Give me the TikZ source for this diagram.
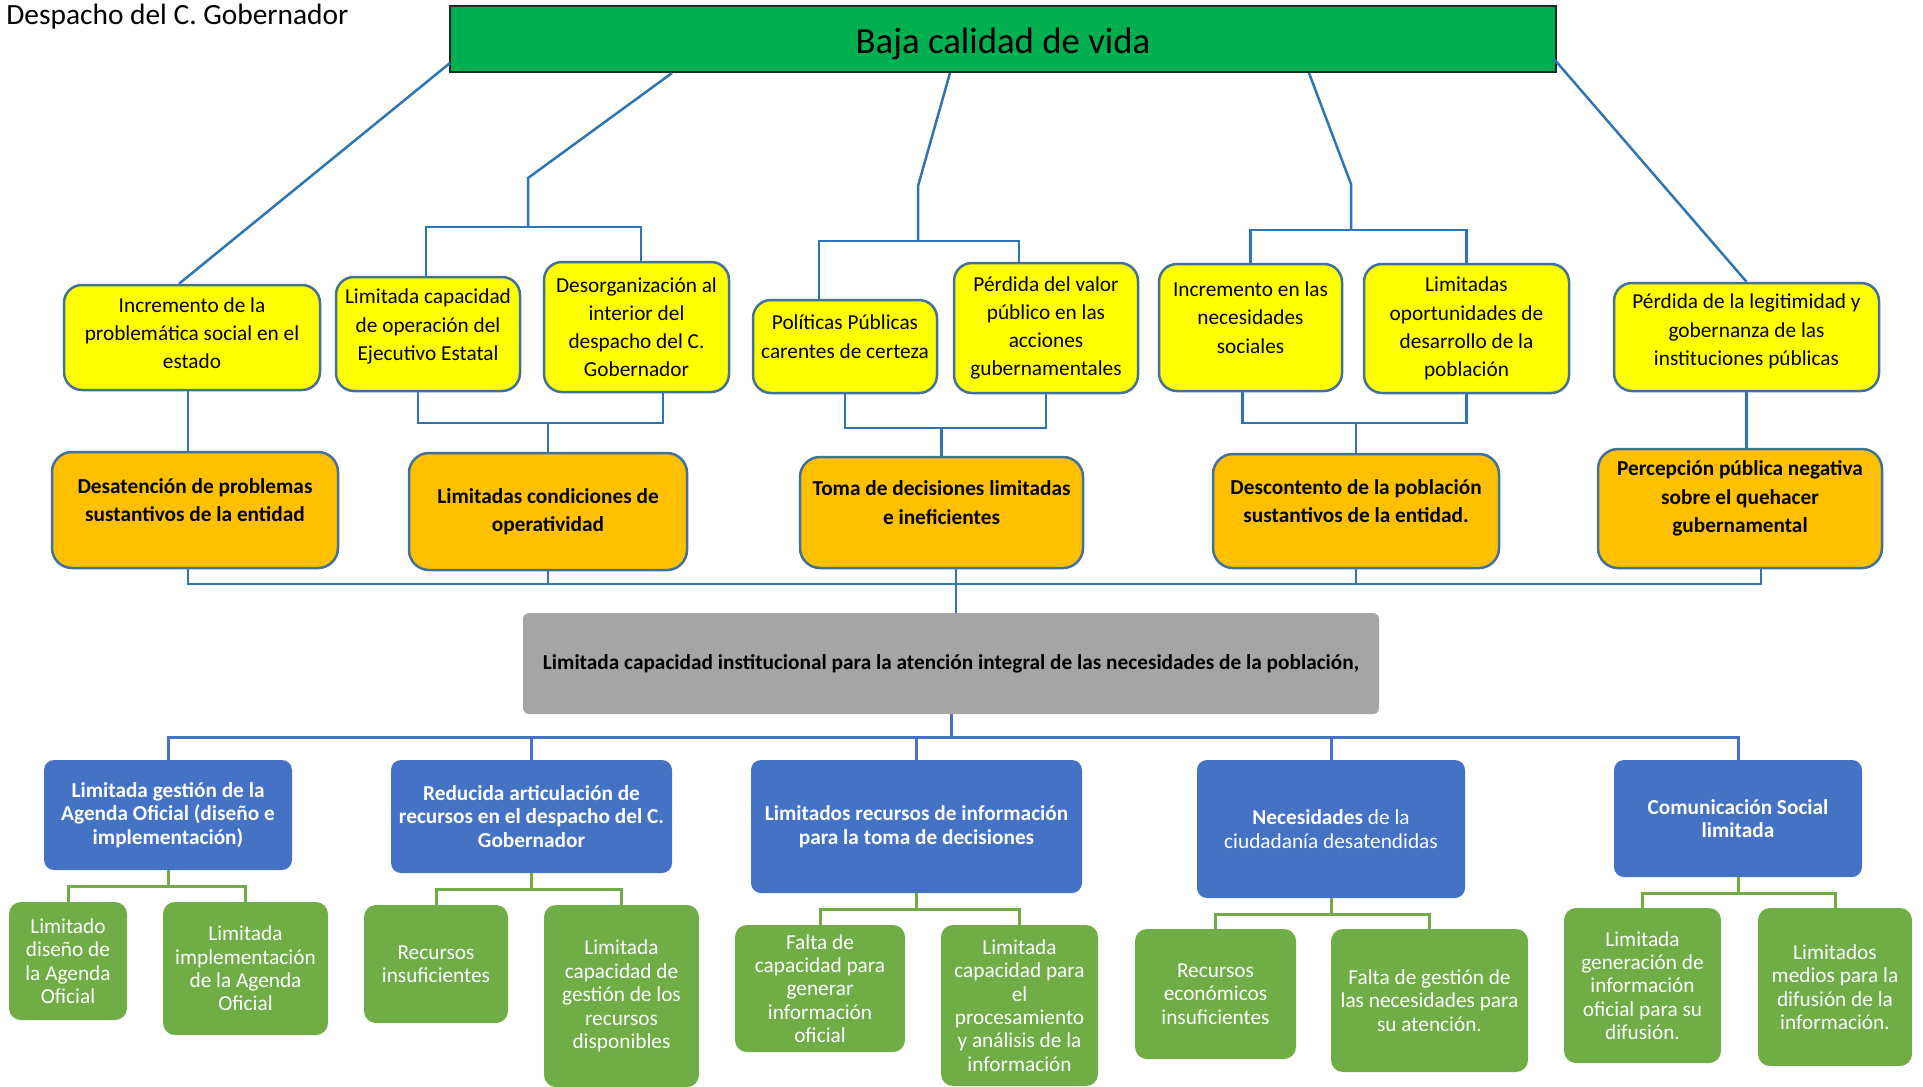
\documentclass[tikz,border=0pt]{standalone}
\usepackage{fontspec}
\setmainfont{Carlito}
\definecolor{vidagreen}{HTML}{00B050}
\definecolor{causeyellow}{HTML}{FFFF00}
\definecolor{effectorange}{HTML}{FFC000}
\definecolor{coregray}{HTML}{A5A5A5}
\definecolor{mediumblue}{HTML}{4472C4}
\definecolor{leafgreen}{HTML}{70AD47}
\definecolor{outlineblue}{HTML}{41719C}
\definecolor{linkblue}{HTML}{2E75B6}

\begin{document}
\begin{tikzpicture}[x=0.5pt,y=-0.5pt,
  boxsize/.style 2 args={minimum width={(#1)*0.5pt},minimum height={(#2)*0.5pt}},
  raisetext/.style={text depth=#1},
  yellowbox/.style={draw=outlineblue,line width=1.25pt,fill=causeyellow,rounded corners=9pt,align=center,inner sep=1pt,font=\fontsize{10.65}{14.1}\selectfont},
  orangebox/.style={draw=outlineblue,line width=1.25pt,fill=effectorange,rounded corners=10pt,align=center,inner sep=1pt,font=\fontsize{10.65}{14.1}\selectfont\bfseries},
  bluebox/.style={fill=mediumblue,text=white,rounded corners=5pt,align=center,inner sep=1pt,font=\fontsize{10.65}{11.7}\selectfont\bfseries},
  greenbox/.style={fill=leafgreen,text=white,rounded corners=6pt,align=center,inner sep=1pt,font=\fontsize{10.65}{11.7}\selectfont},
  link/.style={linkblue,line width=1.25pt},
  bluelink/.style={mediumblue,line width=1.5pt},
  greenlink/.style={leafgreen,line width=1.5pt}]
\useasboundingbox (0,0) rectangle (1923,1087);

\node[anchor=base west,inner sep=0pt,font=\fontsize{14.7}{17}\selectfont] (despacho) at (6,24) {Despacho del C. Gobernador};
\node[draw=black!85,line width=0.8pt,fill=vidagreen,boxsize={1106}{66},text height=18pt,font=\fontsize{18.4}{22}\selectfont] (vida) at (1003,39) {Baja calidad de vida};

\node[yellowbox,boxsize={256}{105},raisetext=4.5pt] (y1) at (192,337.5) {Incremento de la\\problemática social en el\\estado};
\node[yellowbox,boxsize={184}{114},raisetext=9.3pt] (y2) at (428,334) {Limitada capacidad\\de operación del\\Ejecutivo Estatal};
\node[yellowbox,boxsize={185}{130}] (y3) at (636.5,327) {Desorganización al\\interior del\\despacho del C.\\Gobernador};
\node[yellowbox,boxsize={184}{93},raisetext=10pt] (y4) at (845,346.5) {Políticas Públicas\\carentes de certeza};
\node[yellowbox,boxsize={184}{130}] (y5) at (1046,328) {Pérdida del valor\\público en las\\acciones\\gubernamentales};
\node[yellowbox,boxsize={183}{127},raisetext=10pt] (y6) at (1250.5,327.5) {Incremento en las\\necesidades\\sociales};
\node[yellowbox,boxsize={205}{129}] (y7) at (1466.5,328.5) {Limitadas\\oportunidades de\\desarrollo de la\\población};
\node[yellowbox,boxsize={265}{108},raisetext=7.3pt] (y8) at (1746.5,337) {Pérdida de la legitimidad y\\gobernanza de las\\instituciones públicas};

\node[orangebox,boxsize={286}{116},raisetext=10pt] (o1) at (195,510) {Desatención de problemas\\sustantivos de la entidad};
\node[orangebox,boxsize={278}{117}] (o2) at (548,511.5) {Limitadas condiciones de\\operatividad};
\node[orangebox,boxsize={283}{111},raisetext=10pt] (o3) at (941.5,512.5) {Toma de decisiones limitadas\\e ineficientes};
\node[orangebox,boxsize={286}{114},raisetext=10pt] (o4) at (1356,511) {Descontento de la población\\sustantivos de la entidad.};
\node[orangebox,boxsize={284}{119},raisetext=11.8pt] (o5) at (1740,508.5) {Percepción pública negativa\\sobre el quehacer\\gubernamental};

\node[fill=coregray,rounded corners=3pt,boxsize={856}{101},font=\fontsize{10.65}{14.1}\selectfont\bfseries] (nucleo) at (951,663.5) {Limitada capacidad institucional para la atención integral de las necesidades de la población,};

\node[bluebox,boxsize={248}{110}] (b1) at (168,815) {Limitada gestión de la\\Agenda Oficial (diseño e\\implementación)};
\node[bluebox,boxsize={281}{113}] (b2) at (531.5,816.5) {Reducida articulación de\\recursos en el despacho del C.\\Gobernador};
\node[bluebox,boxsize={331}{133}] (b3) at (916.5,826.5) {Limitados recursos de información\\para la toma de decisiones};
\node[bluebox,boxsize={268}{138},font=\fontsize{10.65}{11.7}\selectfont] (b4) at (1331,829) {\textbf{Necesidades} de la\\ciudadanía desatendidas};
\node[bluebox,boxsize={248}{117}] (b5) at (1738,818.5) {Comunicación Social\\limitada};

\node[greenbox,boxsize={118}{118}] (g1) at (68,961) {Limitado\\diseño de\\la Agenda\\Oficial};
\node[greenbox,boxsize={165}{133}] (g2) at (245.5,968.5) {Limitada\\implementación\\de la Agenda\\Oficial};
\node[greenbox,boxsize={144}{118}] (g3) at (436,964) {Recursos\\insuficientes};
\node[greenbox,boxsize={155}{182}] (g4) at (621.5,996) {Limitada\\capacidad de\\gestión de los\\recursos\\disponibles};
\node[greenbox,boxsize={170}{127}] (g5) at (820,988.5) {Falta de\\capacidad para\\generar\\información\\oficial};
\node[greenbox,boxsize={157}{161}] (g6) at (1019.5,1005.5) {Limitada\\capacidad para\\el\\procesamiento\\y análisis de la\\información};
\node[greenbox,boxsize={161}{130}] (g7) at (1215.5,994) {Recursos\\económicos\\insuficientes};
\node[greenbox,boxsize={197}{143}] (g8) at (1429.5,1000.5) {Falta de gestión de\\las necesidades para\\su atención.};
\node[greenbox,boxsize={157}{155}] (g9) at (1642.5,985.5) {Limitada\\generación de\\información\\oficial para su\\difusión.};
\node[greenbox,boxsize={154}{158}] (g10) at (1835,987) {Limitados\\medios para la\\difusión de la\\información.};

\coordinate (t1) at (450,63);
\coordinate (t2) at (672,73);
\coordinate (t3) at (950,73);
\coordinate (t4) at (1309,73);
\coordinate (t5) at (1554,59);
\coordinate (k2) at (528,178);
\coordinate (m2) at (528,227);
\coordinate (k3) at (918,186);
\coordinate (m3) at (918,241);
\coordinate (k4) at (1351,184);
\coordinate (m4) at (1351,230);
\coordinate (n2) at (548,423);
\coordinate (n3) at (941.5,428);
\coordinate (n4) at (1356,423);
\coordinate (bus1) at (956,584);
\coordinate (bus2) at (951,737);

\draw[link] (t1) -- ([xshift=-6.5pt]y1.north);
\draw[link] (t2) -- (k2) -- (m2);
\draw[link] ([xshift=-1pt]y2.north) |- (m2) -| ([xshift=2.25pt]y3.north);
\draw[link] (t3) -- (k3) -- (m3);
\draw[link] ([xshift=-13pt]y4.north) |- (m3) -| ([xshift=-13.5pt]y5.north);
\draw[link] (t4) -- (k4) -- (m4);
\draw[link] (y6.north) |- (m4) -| (y7.north);
\draw[link] (t5) -- (y8.north);

\draw[link] ([xshift=-2pt]y1.south) -- ([xshift=-2pt]y1.south |- o1.north);
\draw[link] ([xshift=-5pt]y2.south) |- (n2) -| ([xshift=13.25pt]y3.south);
\draw[link] (n2) -- (o2.north);
\draw[link] (y4.south) |- (n3) -| (y5.south);
\draw[link] (n3) -- (o3.north);
\draw[link] ([xshift=-4pt]y6.south) |- (n4) -| (y7.south);
\draw[link] (n4) -- (o4.north);
\draw[link] (y8.south) -- (y8.south |- o5.north);

\draw[link] ([xshift=-3.5pt]o1.south) |- (bus1) -| ([xshift=10.5pt]o5.south);
\draw[link] (o2.south) -- (o2.south |- bus1);
\draw[link] (o4.south) -- (o4.south |- bus1);
\draw[link] (o3.south -| bus1) -- (nucleo.north -| bus1);

\draw[bluelink] (nucleo.south) -- (bus2);
\draw[bluelink] (b1.north) |- (bus2) -| (b5.north);
\foreach \b in {b2,b3,b4}
  \draw[bluelink] (\b.north) -- (\b.north |- bus2);

\foreach \b/\l/\r in {b1/g1/g2,b2/g3/g4,b3/g5/g6,b4/g7/g8,b5/g9/g10}{
  \draw[greenlink] (\b.south) -- ++(0,16) coordinate (\b-fork);
  \draw[greenlink] (\l.north) |- (\b-fork) -| (\r.north);
}
\end{tikzpicture}
\end{document}
